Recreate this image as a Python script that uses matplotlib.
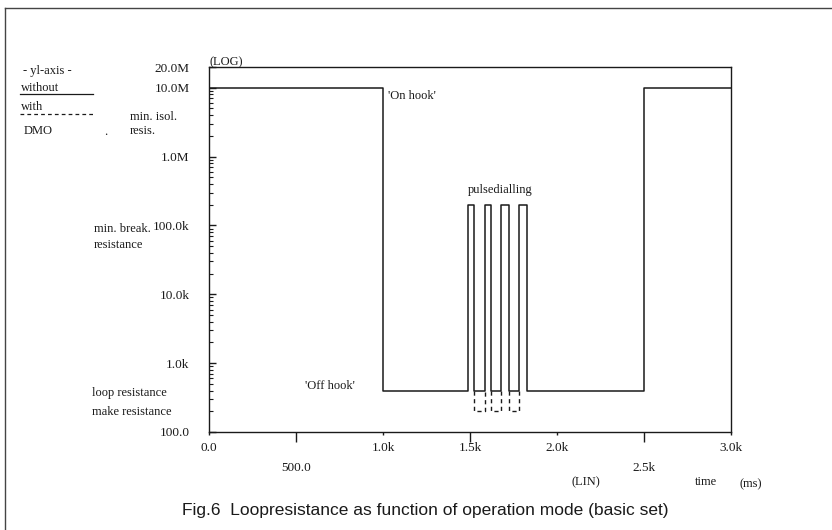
import matplotlib.pyplot as plt
from matplotlib.lines import Line2D
from matplotlib.ticker import FixedLocator, LogLocator, NullFormatter

plt.rcParams['font.family'] = ['Liberation Serif', 'DejaVu Serif']

W, H = 832, 530

# step curve without DMO: switching times (ms) and resistance (ohm) after each switch
edge_t = [0, 1000, 1490, 1525, 1585, 1620, 1680, 1725, 1780, 1825, 2500, 3000]
edge_r = [10e6, 400, 200e3, 400, 200e3, 400, 200e3, 400, 200e3, 400, 10e6, 10e6]

# with DMO: make resistance drops to 200 ohm in the gaps between pulses
gap_start = [1525, 1620, 1725]
gap_end = [1585, 1680, 1780]
loop_r = 400
make_r = 200

yticks = [100, 1e3, 1e4, 1e5, 1e6, 1e7, 2e7]
ylabels = ['100.0', '1.0k', '10.0k', '100.0k', '1.0M', '10.0M', '20.0M']
xticks_row1 = [0, 1000, 1500, 2000, 3000]
xlabels_row1 = ['0.0', '1.0k', '1.5k', '2.0k', '3.0k']
xticks_row2 = [500, 2500]
xlabels_row2 = ['500.0', '2.5k']

ink = '#1a1a1a'

fig = plt.figure(figsize=(W / 100, H / 100), dpi=100)

def fx(x):
    return x / W

def fy(y):
    return 1 - y / H

ax = fig.add_axes([fx(209), fy(432), fx(731) - fx(209), fy(67) - fy(432)])
ax.set_yscale('log')
ax.set_xlim(0, 3000)
ax.set_ylim(100, 2e7)

ax.step(edge_t, edge_r, where='post', color=ink, lw=1.1)
for a, b in zip(gap_start, gap_end):
    ax.plot([a, a, b, b], [loop_r, make_r, make_r, loop_r], color=ink, lw=1.0,
            ls=(0, (3, 2.5)))

for s in ax.spines.values():
    s.set_color(ink)
    s.set_linewidth(1.0)

# y axis
ax.yaxis.set_major_locator(FixedLocator(yticks))
ax.set_yticklabels(ylabels)
ax.yaxis.set_minor_locator(LogLocator(base=10, subs=range(2, 10)))
ax.yaxis.set_minor_formatter(NullFormatter())
ax.tick_params(axis='y', which='major', direction='in', length=5, width=1.0,
               pad=14, labelsize=9.5, colors=ink)
ax.tick_params(axis='y', which='minor', direction='in', length=3, width=0.8,
               colors=ink)

# x axis: two rows of labels
ax.set_xticks(xticks_row1)
ax.set_xticklabels(xlabels_row1)
ax.set_xticks(xticks_row2, minor=True)
ax.set_xticklabels(xlabels_row2, minor=True)
ax.tick_params(axis='x', which='major', direction='out', length=2.5, width=1.0,
               pad=4.5, labelsize=9.5, colors=ink)
ax.tick_params(axis='x', which='minor', direction='out', length=7, width=1.0,
               pad=14.5, labelsize=9.5, colors=ink)
ax.xaxis.get_major_ticks()[2].tick1line.set_markersize(7)

ts = 9
def label(x, y, s, **kw):
    kw.setdefault('fontsize', ts)
    fig.text(fx(x), fy(y), s, va='center', color=ink, **kw)

label(210, 62, '(LOG)')
label(23, 71, '- yl-axis -')
label(21, 88, 'without')
fig.add_artist(Line2D([fx(20), fx(93)], [fy(94), fy(94)], color=ink, lw=0.9))
label(21, 107, 'with')
fig.add_artist(Line2D([fx(20), fx(93)], [fy(114), fy(114)], color=ink, lw=0.9,
                      ls=(0, (3, 2.5))))
label(24, 131, 'DMO')
label(104, 132, '.')
label(130, 117, 'min. isol.')
label(130, 131, 'resis.')
label(94, 229, 'min. break.')
label(94, 245, 'resistance')
label(92, 393, 'loop resistance')
label(92, 412, 'make resistance')
label(388, 96, "'On hook'")
label(305, 386, "'Off hook'")
label(468, 190, 'pulsedialling')
label(572, 482, '(LIN)')
label(695, 482, 'time')
label(740, 484, '(ms)')

fig.text(fx(425), fy(511), 'Fig.6  Loopresistance as function of operation mode (basic set)',
         ha='center', va='center', fontsize=12.5, color=ink,
         family=['Liberation Sans', 'DejaVu Sans'])

# outer frame of the page figure
fig.add_artist(Line2D([fx(5), fx(5)], [fy(8), 0], color='#444444', lw=1.0))
fig.add_artist(Line2D([fx(5), 1], [fy(8), fy(8)], color='#444444', lw=1.0))

fig.savefig('out.png', dpi=100)
